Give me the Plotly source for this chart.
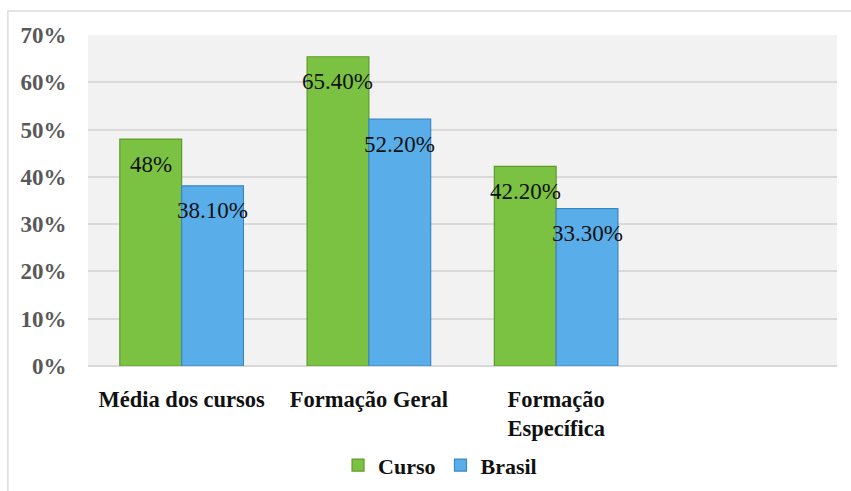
import plotly.graph_objects as go

categories = ["Média dos cursos", "Formação Geral", "Formação<br>Específica", " "]
curso = [48.0, 65.4, 42.2, None]
brasil = [38.1, 52.2, 33.3, None]
curso_labels = ["48%", "65.40%", "42.20%", ""]
brasil_labels = ["38.10%", "52.20%", "33.30%", ""]
y_ticks = [0, 10, 20, 30, 40, 50, 60, 70]
y_tick_text = ["0%", "10%", "20%", "30%", "40%", "50%", "60%", "70%"]

SERIF = "Liberation Serif"

fig = go.Figure()
fig.add_trace(go.Bar(
    name="Curso", x=categories, y=curso, offsetgroup="a",
    marker=dict(color="#7cc242", line=dict(color="#5e9a2e", width=1.2)),
))
fig.add_trace(go.Bar(
    name="Brasil", x=categories, y=brasil, offsetgroup="b",
    marker=dict(color="#59aeea", line=dict(color="#3b86c4", width=1.2)),
))

annotations = []
for i, cat in enumerate(categories):
    if curso[i] is not None:
        annotations.append(dict(x=cat, y=curso[i], xref="x", yref="y", text=curso_labels[i],
                                showarrow=False, xshift=-31, yshift=-25,
                                font=dict(family=SERIF, size=23, color="#111111")))
    if brasil[i] is not None:
        annotations.append(dict(x=cat, y=brasil[i], xref="x", yref="y", text=brasil_labels[i],
                                showarrow=False, xshift=31, yshift=-25,
                                font=dict(family=SERIF, size=23, color="#111111")))

fig.update_layout(
    width=851, height=491,
    margin=dict(l=88, r=14, t=35, b=125, autoexpand=False),
    paper_bgcolor="white",
    plot_bgcolor="#f2f2f2",
    barmode="group",
    bargap=0.34,
    bargroupgap=0,
    font=dict(family=SERIF),
    showlegend=True,
    legend=dict(orientation="h", x=0.47, xanchor="center", y=-0.30, yanchor="middle",
                font=dict(family=SERIF, size=22, color="#111111", weight="bold"),
                itemwidth=30, tracegroupgap=0),
    annotations=annotations,
    shapes=[dict(type="rect", xref="paper", yref="paper", x0=-0.107, x1=1.2, y0=-0.5, y1=1.0725,
                 line=dict(color="#dcdcdc", width=1.5), fillcolor="rgba(0,0,0,0)", layer="below")],
)
fig.update_xaxes(
    type="category", showgrid=False, zeroline=False, showline=False, automargin=False,
    ticks="outside", ticklen=13, tickcolor="rgba(0,0,0,0)",
    tickfont=dict(family=SERIF, size=22.5, color="#111111", weight="bold"),
)
fig.update_yaxes(
    range=[0, 70], tickvals=y_ticks, ticktext=y_tick_text, automargin=False,
    showgrid=True, gridcolor="#d9d9d9", gridwidth=1.5, zeroline=True, zerolinecolor="#d9d9d9",
    zerolinewidth=1.5, showline=False, ticks="outside", ticklen=16, tickcolor="rgba(0,0,0,0)",
    tickfont=dict(family=SERIF, size=23, color="#595959", weight="bold"),
)

fig.write_html("out.html")
